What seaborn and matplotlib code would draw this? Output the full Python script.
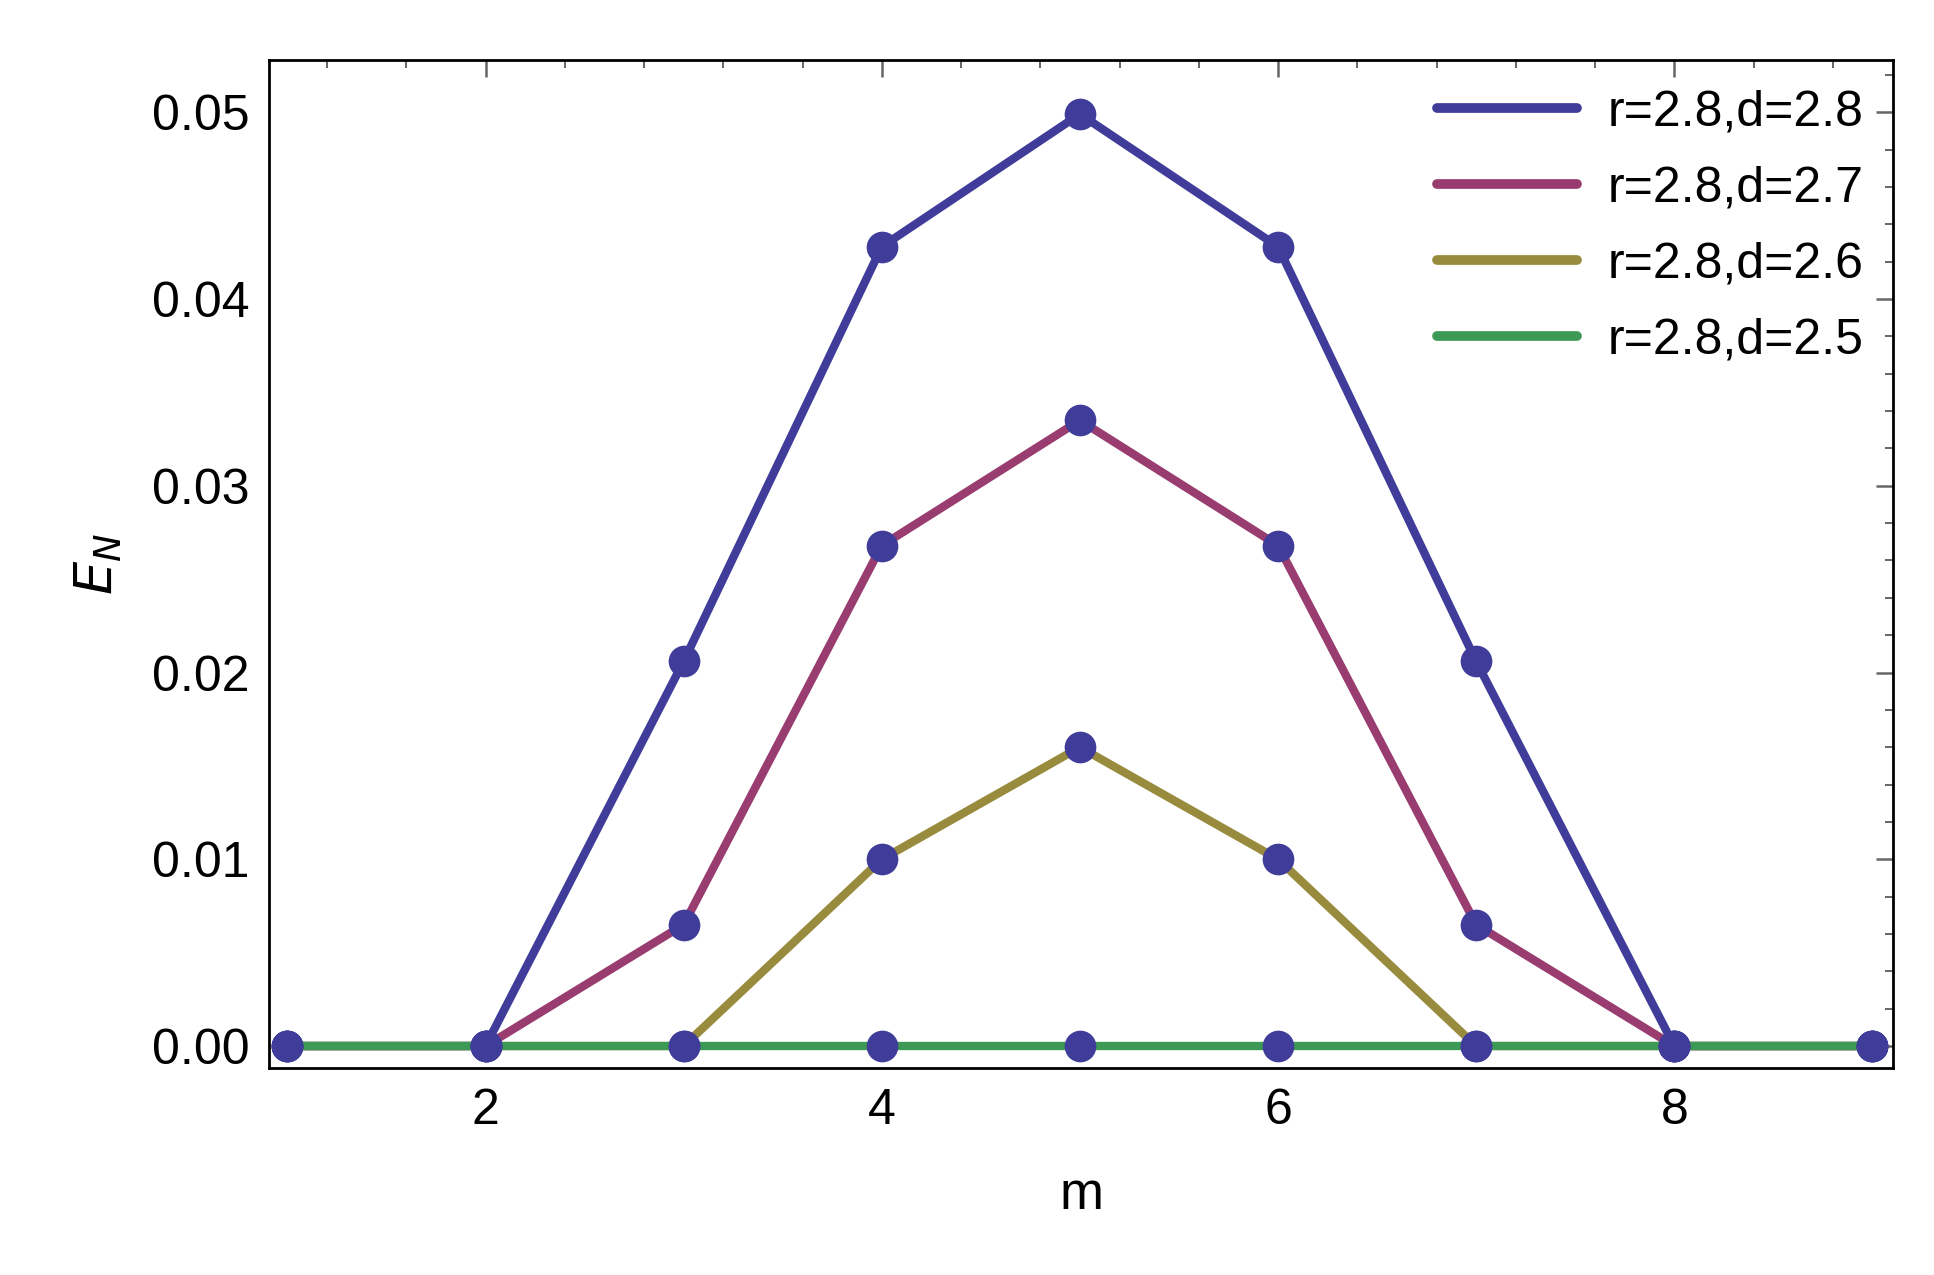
import matplotlib
matplotlib.use("Agg")
import matplotlib.pyplot as plt
import seaborn as sns
import pandas as pd
from matplotlib.ticker import MultipleLocator

m = [1, 2, 3, 4, 5, 6, 7, 8, 9]
labels = ["r=2.8,d=2.8", "r=2.8,d=2.7", "r=2.8,d=2.6", "r=2.8,d=2.5"]
s1 = [0, 0, 0.0206, 0.0428, 0.0499, 0.0428, 0.0206, 0, 0]
s2 = [0, 0, 0.0065, 0.0268, 0.0335, 0.0268, 0.0065, 0, 0]
s3 = [0, 0, 0, 0.0100, 0.0160, 0.0100, 0, 0, 0]
s4 = [0, 0, 0, 0, 0, 0, 0, 0, 0]
colors = ["#3f3d99", "#993d71", "#998b3d", "#3d9956"]

rows = []
for lab, s in zip(labels, [s1, s2, s3, s4]):
    for x, y in zip(m, s):
        rows.append({"m": x, "E": y, "series": lab})
df = pd.DataFrame(rows)

sns.set_theme(style="white")
plt.rcParams['font.family'] = ['Liberation Sans', 'DejaVu Sans']
plt.rcParams['text.color'] = 'black'
plt.rcParams['axes.labelcolor'] = 'black'
fig = plt.figure(figsize=(19.34, 12.75), dpi=100)
ax = fig.add_axes([0.139, 0.162, 0.840, 0.791])
sns.lineplot(data=df, x="m", y="E", hue="series", palette=colors, linewidth=6, ax=ax)
for lab, s in zip(labels, [s1, s2, s3, s4]):
    ax.scatter(m, s, s=520, color="#3f3d99", zorder=5, linewidths=0)

ax.set_xlim(0.906, 9.106)
ax.set_ylim(-0.0012, 0.0528)
ax.xaxis.set_major_locator(MultipleLocator(2))
ax.xaxis.set_minor_locator(MultipleLocator(0.4))
ax.yaxis.set_major_locator(MultipleLocator(0.01))
ax.yaxis.set_minor_locator(MultipleLocator(0.002))
ax.yaxis.set_major_formatter(matplotlib.ticker.FormatStrFormatter('%.2f'))
ax.tick_params(which="both", direction="in", top=True, right=True, color="#666666",
               labelcolor="black")
ax.tick_params(which="major", length=12, width=1.8, labelsize=36, pad=14)
ax.tick_params(which="minor", length=6, width=1.4)
for sp in ax.spines.values():
    sp.set_color("black"); sp.set_linewidth(2)
ax.set_xlabel("m", fontsize=38, labelpad=26)
ax.set_ylabel("$E_N$", fontsize=38, labelpad=20)
leg = ax.legend(loc="upper right", frameon=False, fontsize=36, handlelength=2.8,
                labelspacing=0.6, borderaxespad=0.2, handletextpad=0.6)
for l in leg.get_lines():
    l.set_linewidth(7)
fig.savefig("out.png", dpi=100)
